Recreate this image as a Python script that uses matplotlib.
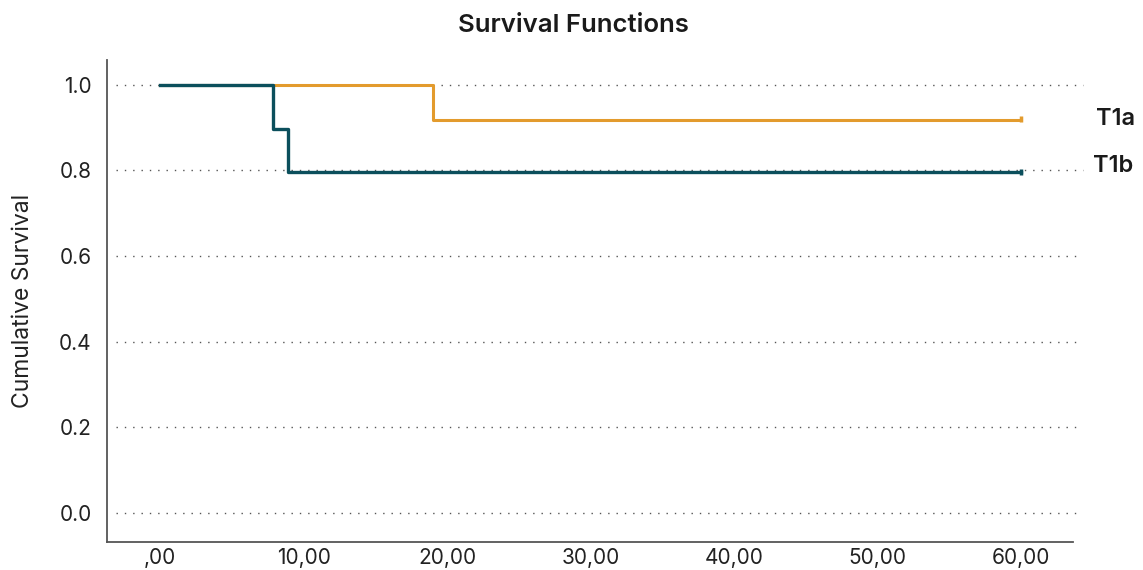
import matplotlib.pyplot as plt
import numpy as np

plt.rcParams['font.family'] = ['Inter', 'DejaVu Sans']

# step data
t1a_time = [0, 19.0, 60.0]
t1a_surv = [1.0, 0.917, 0.92]
t1b_time = [0, 7.9, 8.9, 60.0]
t1b_surv = [1.0, 0.897, 0.795, 0.795]

groups = ['T1a', 'T1b']
colors = ['#e39b2d', '#0b4f5c']

xticks = [0, 10, 20, 30, 40, 50, 60]
xticklabels = [',00', '10,00', '20,00', '30,00', '40,00', '50,00', '60,00']
yticks = [0.0, 0.2, 0.4, 0.6, 0.8, 1.0]

fig = plt.figure(figsize=(11.43, 5.70), dpi=100)
ax = fig.add_axes([0.0936, 0.0491, 0.845, 0.846])

ax.set_xlim(-3.7, 63.6)
ax.set_ylim(-0.068, 1.058)

# dotted grid
for yv in yticks:
    xr = 64.3 if yv >= 0.8 else 63.8
    ax.hlines(yv, -3.1, xr, colors='#555555', linestyles=(0, (1, 5)), linewidth=1.0, zorder=1, clip_on=False)

ax.step(t1a_time, t1a_surv, where='post', color=colors[0], linewidth=2.2, zorder=3)
ax.step(t1b_time, t1b_surv, where='post', color=colors[1], linewidth=2.4, zorder=4)

# censor marks at the end
ax.plot([t1a_time[-1]], [t1a_surv[-1]], marker='|', markersize=5, mew=2.5, color=colors[0], zorder=5)
ax.plot([t1b_time[-1]], [t1b_surv[-1]], marker='|', markersize=5, mew=2.5, color=colors[1], zorder=5)

ax.text(65.2, t1a_surv[-1], groups[0], fontsize=17, fontweight='semibold', va='center', ha='left',
        color='#1a1a1a', clip_on=False)
ax.text(65.0, 0.81, groups[1], fontsize=17, fontweight='semibold', va='center', ha='left',
        color='#1a1a1a', clip_on=False)

ax.set_xticks(xticks)
ax.set_xticklabels(xticklabels)
ax.set_yticks(yticks)
ax.set_yticklabels([f'{v:.1f}' for v in yticks])
ax.tick_params(length=0, labelsize=15, colors='#222222')
ax.tick_params(axis='x', pad=4)
ax.tick_params(axis='y', pad=11)

for s in ['top', 'right']:
    ax.spines[s].set_visible(False)
ax.spines['left'].set_color('#555555')
ax.spines['bottom'].set_color('#555555')
ax.spines['left'].set_linewidth(1.3)
ax.spines['bottom'].set_linewidth(1.3)

ax.set_ylabel('Cumulative Survival', fontsize=16.5, color='#222222', labelpad=18)
fig.text(0.5015, 0.956, 'Survival Functions', ha='center', va='center', fontsize=18.5,
         fontweight='semibold', color='#1a1a1a')

fig.savefig('out.png', dpi=100, facecolor='white')
